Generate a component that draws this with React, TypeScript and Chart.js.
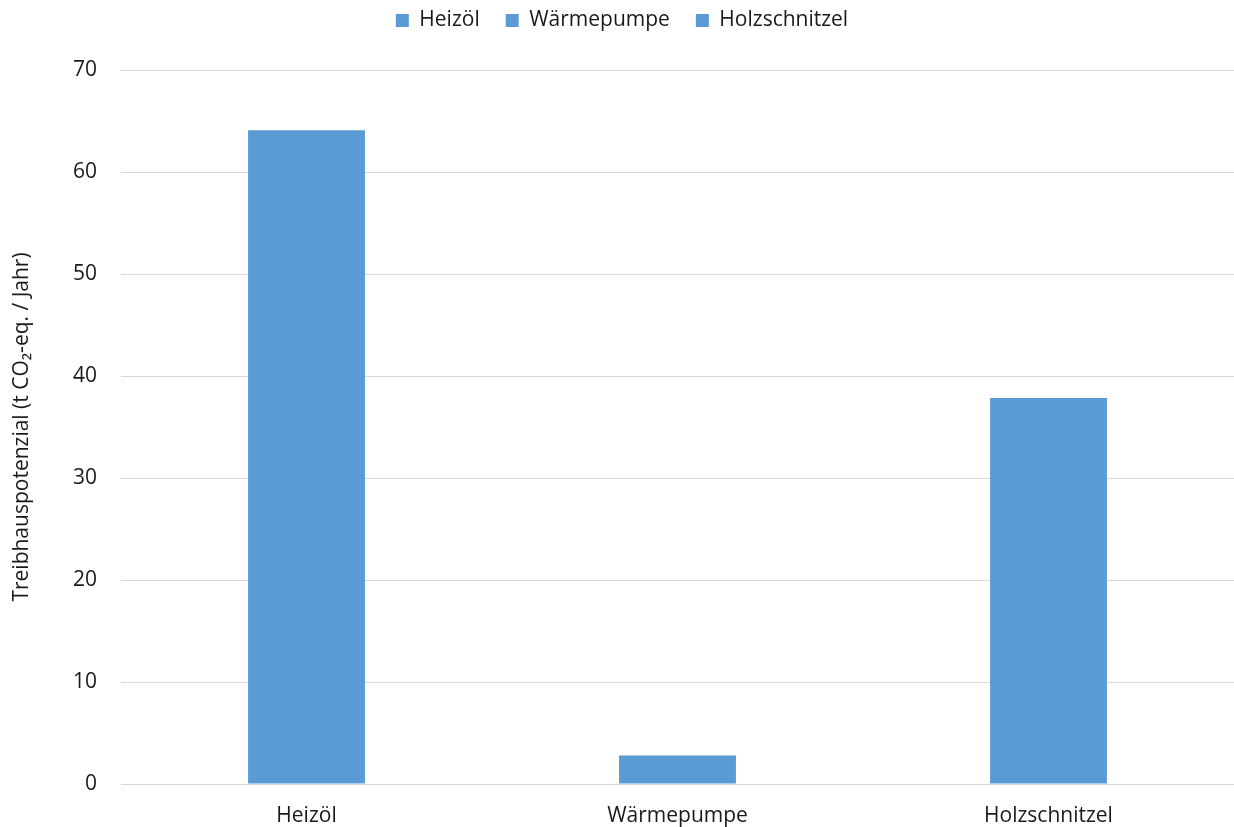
import React, { useEffect, useRef } from "react";
import { Chart, registerables } from "chart.js";

Chart.register(...registerables);

const categories = ["Heizöl", "Wärmepumpe", "Holzschnitzel"];
const emissions = [64.1, 2.8, 37.85];
const yTicks = { min: 0, max: 70, step: 10 };
const yTitle = "Treibhauspotenzial (t CO\u2082-eq. / Jahr)";

const BAR_COLOR = "#5B9BD5";
const TEXT_COLOR = "#1a1a1a";
const GRID_COLOR = "#d9d9d9";
const FONT = "'Open Sans', 'Noto Sans', sans-serif";
const FONT_SIZE = 21;
const LEGEND_PAD = 26;

// Fixed legend band height and a raised, slightly shifted legend row
const legendBand = {
  id: "legendBand",
  beforeLayout(chart: any) {
    const legend = chart.legend;
    if (!legend || legend._bandPatched) return;
    const fit = legend.fit;
    legend.fit = function () {
      fit.call(this);
      this.height = 70;
    };
    legend._bandPatched = true;
  },
  afterLayout(chart: any) {
    const legend = chart.legend;
    if (!legend) return;
    legend.top = -16;
    legend.bottom = legend.top + legend.height;
    legend.left += 5;
    legend.right += 5;
  },
};

export default function App() {
  const canvasRef = useRef<HTMLCanvasElement | null>(null);

  useEffect(() => {
    if (!canvasRef.current) return;
    const chart = new Chart(canvasRef.current, {
      type: "bar",
      data: {
        labels: categories,
        datasets: [
          {
            label: "Treibhauspotenzial",
            data: emissions,
            backgroundColor: BAR_COLOR,
            borderWidth: 0,
            categoryPercentage: 1,
            barPercentage: 0.315,
          },
        ],
      },
      plugins: [legendBand],
      options: {
        responsive: false,
        animation: false,
        maintainAspectRatio: false,
        layout: { padding: { top: 0, right: 0, bottom: 0, left: 0 } },
        plugins: {
          tooltip: { enabled: false },
          legend: {
            position: "top",
            align: "center",
            onClick: () => {},
            labels: {
              color: TEXT_COLOR,
              font: { family: FONT, size: FONT_SIZE },
              boxWidth: 13,
              boxHeight: 13,
              padding: LEGEND_PAD,
              generateLabels: () =>
                categories.map((c) => ({
                  text: c,
                  fillStyle: BAR_COLOR,
                  strokeStyle: BAR_COLOR,
                  lineWidth: 0,
                  hidden: false,
                  fontColor: TEXT_COLOR,
                })),
            },
          },
        },
        scales: {
          x: {
            grid: { display: false },
            border: { display: true, color: GRID_COLOR, width: 1 },
            ticks: {
              color: TEXT_COLOR,
              font: { family: FONT, size: FONT_SIZE },
              padding: 11,
            },
            afterFit: (scale: any) => {
              scale.height = 43;
            },
          },
          y: {
            min: yTicks.min,
            max: yTicks.max,
            grid: { color: GRID_COLOR, lineWidth: 1, drawTicks: false },
            border: { display: false },
            ticks: {
              stepSize: yTicks.step,
              color: TEXT_COLOR,
              font: { family: FONT, size: FONT_SIZE },
              padding: 24,
            },
            title: {
              display: true,
              text: yTitle,
              color: TEXT_COLOR,
              font: { family: FONT, size: FONT_SIZE },
              padding: { top: 9, bottom: 10 },
            },
            afterFit: (scale: any) => {
              scale.width = 121;
            },
          },
        },
      },
    });
    return () => chart.destroy();
  }, []);

  return (
    <div style={{ position: "fixed", left: 0, top: 0, width: 1234, height: 827, background: "#fff" }}>
      <canvas ref={canvasRef} width={1234} height={827} style={{ display: "block" }} />
    </div>
  );
}
